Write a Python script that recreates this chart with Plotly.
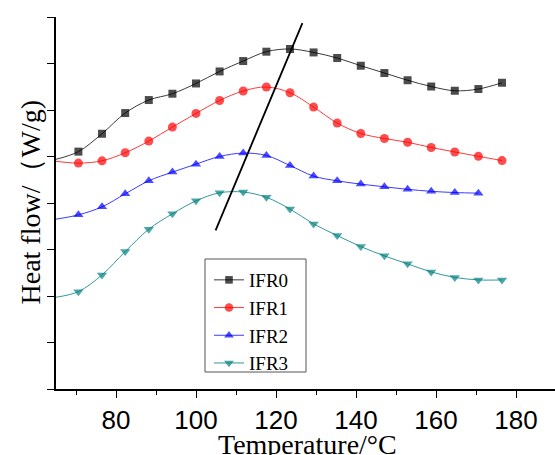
import plotly.graph_objects as go

# Temperatures (°C); first value is the curve start at the left axis (no marker)
temperature = [65, 70.6, 76.5, 82.3, 88.2, 94.1, 100.0, 105.9, 111.8, 117.6,
               123.5, 129.4, 135.3, 141.2, 147.1, 152.9, 158.8, 164.7, 170.6, 176.5]

ifr0 = [4.94, 5.105, 5.489, 5.934, 6.214, 6.35, 6.571, 6.829, 7.053, 7.254,
        7.312, 7.238, 7.118, 6.952, 6.795, 6.64, 6.505, 6.414, 6.451, 6.586]
ifr1 = [4.897, 4.858, 4.907, 5.080, 5.331, 5.633, 5.926, 6.205, 6.408, 6.494,
        6.371, 6.063, 5.719, 5.495, 5.387, 5.306, 5.194, 5.097, 5.004, 4.912]
ifr2 = [3.653, 3.745, 3.917, 4.197, 4.477, 4.664, 4.836, 5.0, 5.073, 5.022,
        4.806, 4.578, 4.477, 4.406, 4.348, 4.294, 4.251, 4.225, 4.212]
ifr3 = [1.974, 2.094, 2.454, 2.955, 3.437, 3.767, 4.046, 4.219, 4.236, 4.122,
        3.870, 3.551, 3.300, 3.063, 2.863, 2.691, 2.518, 2.400, 2.346, 2.346]

series_names = ["IFR0", "IFR1", "IFR2", "IFR3"]

# Straight guide line through the peaks
guide_x = [104.9, 126.6]
guide_y = [3.41, 7.87]

x_ticks = [80, 100, 120, 140, 160, 180]
y_ticks = [0, 1, 2, 3, 4, 5, 6, 7, 8]

W, H = 555, 455
ML, MR, MT, MB = 56, 0, 17, 66
PW, PH = W - ML - MR, H - MT - MB


def px_x(p):
    return (p - ML) / PW


def px_y(p):
    return (H - MB - p) / PH


styles = [
    dict(mc="#000000", lc="#3a3a3a", sym="square", size=8),
    dict(mc="#ff0000", lc="#ff3a3a", sym="circle", size=9),
    dict(mc="#0000ff", lc="#3a3aff", sym="triangle-up", size=9),
    dict(mc="#008080", lc="#2f9a9a", sym="triangle-down", size=9),
]

fig = go.Figure()
for name, ys, st in zip(series_names, [ifr0, ifr1, ifr2, ifr3], styles):
    xs = temperature[:len(ys)]
    sizes = [0] + [st["size"]] * (len(ys) - 1)
    fig.add_trace(go.Scatter(
        x=xs, y=ys, name=name, mode="lines+markers",
        line=dict(color=st["lc"], width=1, shape="spline", smoothing=1),
        marker=dict(color=st["mc"], symbol=st["sym"], size=sizes, line=dict(width=0)),
    ))

fig.add_trace(go.Scatter(
    x=guide_x, y=guide_y, mode="lines", showlegend=False,
    line=dict(color="black", width=1.8),
))

fig.update_layout(
    width=W, height=H,
    margin=dict(l=ML, r=MR, t=MT, b=MB, autoexpand=False),
    paper_bgcolor="white", plot_bgcolor="white",
    showlegend=True,
    legend=dict(
        x=px_x(209), y=px_y(261), xanchor="left", yanchor="top",
        bgcolor="rgba(0,0,0,0)", borderwidth=0,
        font=dict(family="Liberation Serif", size=19, color="black"),
        tracegroupgap=0,
    ),
    shapes=[
        dict(type="rect", xref="paper", yref="paper",
             x0=px_x(205), x1=px_x(306), y0=px_y(372), y1=px_y(259),
             line=dict(color="#555555", width=1), fillcolor="white", layer="above"),
    ],
    xaxis=dict(
        range=[65, 65 + PW / 4], tickvals=x_ticks, ticks="outside", ticklen=7,
        tickwidth=1.2, tickcolor="black", showline=True, linecolor="black", linewidth=1.5,
        showgrid=False, zeroline=False,
        tickfont=dict(family="Liberation Sans", size=26, color="black"),
        minor=dict(dtick=10, tick0=0, ticks="outside", ticklen=4, tickcolor="black", tickwidth=1.2),
    ),
    yaxis=dict(
        range=[0, 8], tickvals=y_ticks, ticks="outside", ticklen=7, tickwidth=1.2,
        tickcolor="black", showline=True, linecolor="black", linewidth=1.5,
        showgrid=False, zeroline=False, showticklabels=False,
    ),
    annotations=[
        dict(text="Temperature/°C", xref="paper", yref="paper",
             x=px_x(307.5), y=px_y(427), xanchor="center", yanchor="top",
             showarrow=False, font=dict(family="Liberation Serif", size=28, color="black")),
        dict(text="Heat flow/（W/g)", xref="paper", yref="paper", textangle=-90,
             x=px_x(30), y=px_y(202.5), xanchor="center", yanchor="middle",
             showarrow=False, font=dict(family="Liberation Serif", size=28, color="black")),
    ],
)

fig.write_html("out.html", config={"displayModeBar": False},
               post_script="document.body.style.margin='0';")
